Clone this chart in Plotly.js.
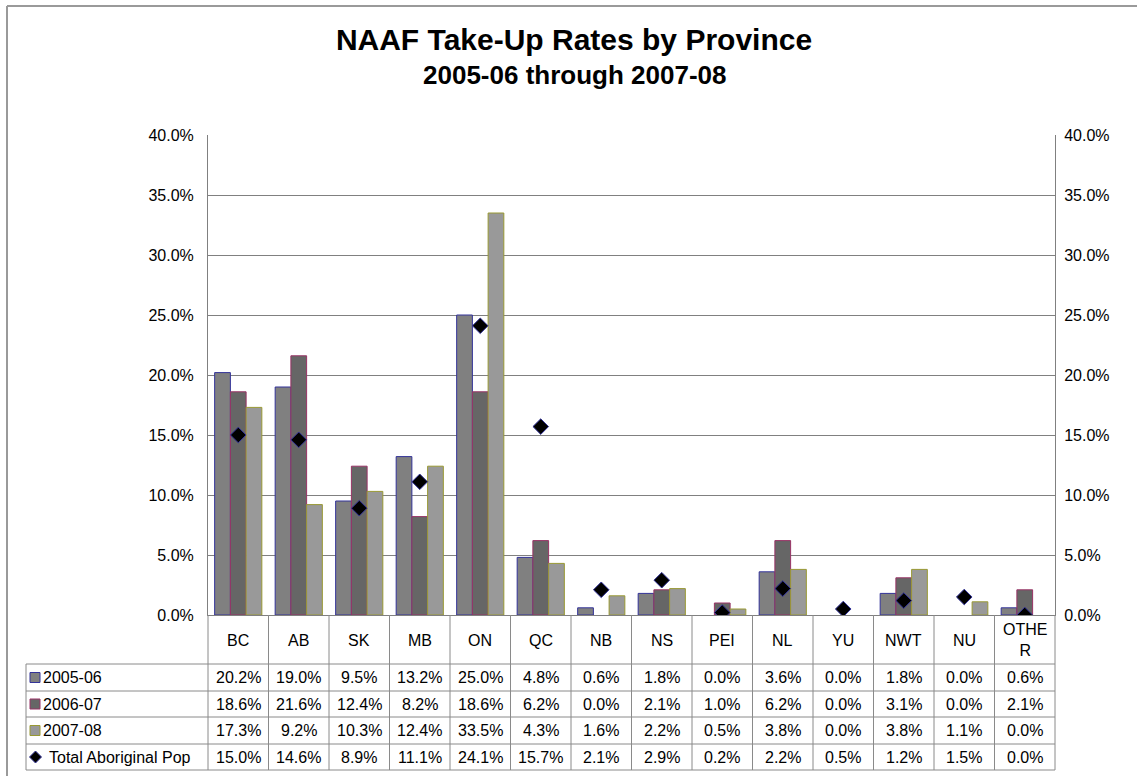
<!DOCTYPE html>
<html>
<head>
<meta charset="utf-8">
<script src="https://cdn.plot.ly/plotly-3.0.1.min.js"></script>
<style>html,body{margin:0;padding:0;background:#fff;}#chart{width:1137px;height:776px;}</style>
</head>
<body>
<div id="chart"></div>
<script>
const categories = ['BC','AB','SK','MB','ON','QC','NB','NS','PEI','NL','YU','NWT','NU','OTHER'];
const categoryLabels = ['BC','AB','SK','MB','ON','QC','NB','NS','PEI','NL','YU','NWT','NU','OTHE<br>R'];
const seriesNames = ['2005-06','2006-07','2007-08','Total Aboriginal Pop'];
const v2005_06 = [20.2,19.0,9.5,13.2,25.0,4.8,0.6,1.8,0.0,3.6,0.0,1.8,0.0,0.6];
const v2006_07 = [18.6,21.6,12.4,8.2,18.6,6.2,0.0,2.1,1.0,6.2,0.0,3.1,0.0,2.1];
const v2007_08 = [17.3,9.2,10.3,12.4,33.5,4.3,1.6,2.2,0.5,3.8,0.0,3.8,1.1,0.0];
const vTotalPop = [15.0,14.6,8.9,11.1,24.1,15.7,2.1,2.9,0.2,2.2,0.5,1.2,1.5,0.0];
const yTickVals = [0,5,10,15,20,25,30,35,40];

const W = 1137, H = 776;
const L = 208, R = 1055, T = 135, B = 615;
const pw = R - L, ph = B - T;
const px2x = p => (p - L) / pw;
const py2y = p => (B - p) / ph;

const FONT = '"Liberation Sans", Arial, Helvetica, sans-serif';
const fills = ['#808080','#666666','#999999'];
const borders = ['#333399','#993366','#999933'];
const barSeries = [v2005_06, v2006_07, v2007_08];

const traces = barSeries.map((vals, i) => ({
  type: 'bar', name: seriesNames[i], x: categories, y: vals,
  marker: {color: fills[i], line: {color: borders[i], width: vals.map(v => v === 0 ? 0 : 1)}},
  hoverinfo: 'skip'
}));
traces.push({
  type: 'scatter', mode: 'markers', name: seriesNames[3], x: categories, y: vTotalPop,
  yaxis: 'y2',
  marker: {symbol: 'diamond', size: 12, color: '#000000', line: {color: '#333399', width: 1}},
  hoverinfo: 'skip'
});

// table geometry (pixels)
const rowEdges = [664, 691, 717, 744, 770];
const headerMid = 640;
const tableLeft = 26;
const gridCol = '#8a8a8a';

const shapes = [];
const n = categories.length;
for (let i = 0; i <= n; i++) {
  shapes.push({type:'line', xref:'paper', yref:'paper', x0:i/n, x1:i/n, y0:0, y1:py2y(rowEdges[rowEdges.length-1]), line:{color:gridCol, width:1}});
}
rowEdges.forEach(e => shapes.push({type:'line', xref:'paper', yref:'paper', x0:px2x(tableLeft), x1:1, y0:py2y(e), y1:py2y(e), line:{color:gridCol, width:1}}));
shapes.push({type:'line', xref:'paper', yref:'paper', x0:px2x(tableLeft), x1:px2x(tableLeft), y0:py2y(rowEdges[0]), y1:py2y(rowEdges[rowEdges.length-1]), line:{color:gridCol, width:1}});
// outer chart border
shapes.push({type:'line', xref:'paper', yref:'paper', x0:px2x(7), x1:px2x(W+5), y0:py2y(6), y1:py2y(6), line:{color:'#9a9a9a', width:2}});
shapes.push({type:'line', xref:'paper', yref:'paper', x0:px2x(7), x1:px2x(7), y0:py2y(6), y1:py2y(H+5), line:{color:'#9a9a9a', width:2}});

const annotations = [];
const cellFont = {family: FONT, size: 16, color: '#000'};
categories.forEach((c, i) => {
  annotations.push({xref:'x', yref:'paper', x:c, y:py2y(headerMid), text:categoryLabels[i], showarrow:false, xanchor:'center', yanchor:'middle', font:cellFont});
});
const allSeries = [v2005_06, v2006_07, v2007_08, vTotalPop];
allSeries.forEach((vals, r) => {
  const mid = (rowEdges[r] + rowEdges[r+1]) / 2;
  vals.forEach((v, i) => {
    annotations.push({xref:'x', yref:'paper', x:categories[i], y:py2y(mid), text:v.toFixed(1)+'%', showarrow:false, xanchor:'center', yanchor:'middle', font:cellFont});
  });
  // legend key
  const isMarker = r === 3;
  annotations.push({xref:'paper', yref:'paper', x:px2x(isMarker ? 47 : 41), y:py2y(mid), text:seriesNames[r], showarrow:false, xanchor:'left', yanchor:'middle', font:cellFont});
  if (!isMarker) {
    shapes.push({type:'rect', xref:'paper', yref:'paper', x0:px2x(30), x1:px2x(40), y0:py2y(mid-5), y1:py2y(mid+5), fillcolor:fills[r], line:{color:borders[r], width:1}});
  } else {
    const cx = 35.5, cy = mid, d = 6;
    const p = (x, y) => px2x(x) + ',' + py2y(y);
    shapes.push({type:'path', xref:'paper', yref:'paper', path:'M' + p(cx-d,cy) + ' L' + p(cx,cy-d) + ' L' + p(cx+d,cy) + ' L' + p(cx,cy+d) + ' Z', fillcolor:'#000', line:{color:'#333399', width:1}});
  }
});

annotations.push({xref:'paper', yref:'paper', x:px2x(574), y:py2y(75), text:'<b>2005-06 through 2007-08</b>', showarrow:false, xanchor:'center', yanchor:'middle', font:{family:FONT, size:26, color:'#000'}});

const yAxisCommon = {
  range: [0, 40], tickvals: yTickVals, ticktext: yTickVals.map(v => v.toFixed(1) + '%'),
  ticks: '', showline: true, linecolor: '#808080', linewidth: 1,
  tickfont: {family: FONT, size: 16, color: '#000'}, zeroline: false, fixedrange: true
};

const layout = {
  width: W, height: H,
  margin: {l: L, r: W - R, t: T, b: H - B, pad: 0},
  paper_bgcolor: '#fff', plot_bgcolor: '#fff',
  showlegend: false,
  barmode: 'group', bargap: 0.22, bargroupgap: 0,
  font: {family: FONT, size: 16, color: '#000'},
  title: {text: '<b>NAAF Take-Up Rates by Province</b>', x: 574 / W, xanchor: 'center', xref: 'container', y: 1 - 39 / H, yanchor: 'middle', yref: 'container', font: {family: FONT, size: 30, color: '#000'}},
  xaxis: {type: 'category', range: [-0.5, n - 0.5], showticklabels: false, ticks: '', showgrid: false, showline: true, linecolor: '#808080', linewidth: 1, fixedrange: true},
  yaxis: Object.assign({}, yAxisCommon, {side: 'left', showgrid: true, gridcolor: '#808080', gridwidth: 1, ticklabelstandoff: 10}),
  yaxis2: Object.assign({}, yAxisCommon, {side: 'right', overlaying: 'y', showgrid: false, ticklabelstandoff: 5}),
  shapes: shapes,
  annotations: annotations
};

Plotly.newPlot('chart', traces, layout, {displayModeBar: false, staticPlot: true});
</script>
</body>
</html>
